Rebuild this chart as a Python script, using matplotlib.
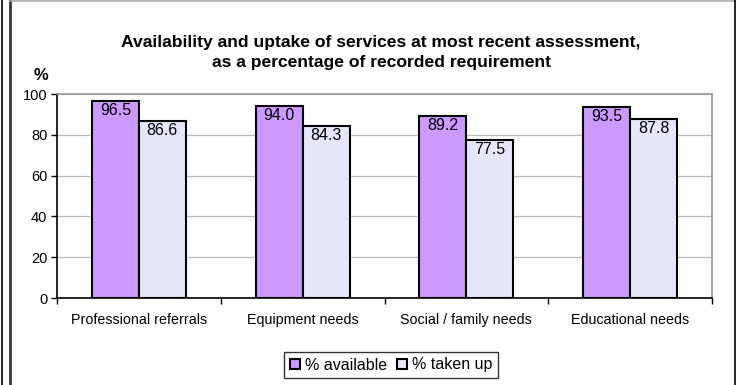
import numpy as np
import matplotlib
matplotlib.use("Agg")
import matplotlib.pyplot as plt
from matplotlib.lines import Line2D
from matplotlib.patches import Patch

plt.rcParams['font.family'] = ['Liberation Sans', 'DejaVu Sans']

# data
categories = ['Professional referrals', 'Equipment needs',
              'Social / family needs', 'Educational needs']
available = [96.5, 94.0, 89.2, 93.5]
taken_up = [86.6, 84.3, 77.5, 87.8]
series_names = ['% available', '% taken up']
y_ticks = [0, 20, 40, 60, 80, 100]

W, H = 739, 385
fig = plt.figure(figsize=(W / 100, H / 100), dpi=100)
ax = fig.add_axes([57 / W, 1 - 298 / H, 655 / W, 204 / H])

x = np.arange(len(categories))
bw = 0.287
c_avail = '#CC99FF'
c_taken = '#E6E6FB'
b1 = ax.bar(x - bw / 2, available, bw, color=c_avail, edgecolor='black',
            linewidth=1.5, zorder=3)
b2 = ax.bar(x + bw / 2, taken_up, bw, color=c_taken, edgecolor='black',
            linewidth=1.5, zorder=3)

for bars, vals in ((b1, available), (b2, taken_up)):
    for rect, v in zip(bars, vals):
        ax.annotate('%.1f' % v, (rect.get_x() + rect.get_width() / 2, v),
                    xytext=(0, -1.5), textcoords='offset points',
                    ha='center', va='top', fontsize=11.5, zorder=4)

ax.set_xlim(-0.5, len(categories) - 0.5)
ax.set_ylim(0, 100)
ax.set_yticks(y_ticks)
ax.set_yticklabels([str(t) for t in y_ticks], fontsize=10.5)
ax.yaxis.grid(True, color='#BBBBBB', linewidth=0.9, zorder=0)
ax.set_axisbelow(True)

ax.set_xticks(x)
ax.set_xticklabels(categories, fontsize=10.3)
ax.tick_params(axis='x', which='major', length=0, pad=11)
ax.set_xticks(np.arange(-0.5, len(categories)), minor=True)
ax.tick_params(axis='x', which='minor', length=4, width=1, direction='out')
ax.tick_params(axis='y', length=4, width=1, direction='out', pad=3)

for s in ('top', 'right'):
    ax.spines[s].set_color('#999999')
    ax.spines[s].set_linewidth(1.2)
ax.spines['left'].set_linewidth(1.2)
ax.spines['bottom'].set_linewidth(1.2)

fig.text(381 / W, 1 - 43 / H, 'Availability and uptake of services at most recent assessment,',
         ha='center', va='center', fontsize=12.6, fontweight='bold')
fig.text(381 / W, 1 - 63 / H, 'as a percentage of recorded requirement',
         ha='center', va='center', fontsize=12.6, fontweight='bold')
fig.text(41 / W, 1 - 75 / H, '%', ha='center', va='center',
         fontsize=12, fontweight='bold')

handles = [Patch(facecolor=c_avail, edgecolor='black', linewidth=1.5),
           Patch(facecolor=c_taken, edgecolor='black', linewidth=1.5)]
leg = fig.legend(handles, series_names, loc='center',
                 bbox_to_anchor=(391 / W, 1 - 365 / H), ncol=2,
                 fontsize=11.5, frameon=True, fancybox=False,
                 edgecolor='black', handlelength=0.65, handleheight=0.65,
                 handletextpad=0.3, columnspacing=0.6, borderpad=0.35,
                 borderaxespad=0)
leg.get_frame().set_linewidth(1.0)

# outer frame lines
fig.add_artist(Line2D([2 / W, 2 / W], [0, 1], color='black', linewidth=1.2))
fig.add_artist(Line2D([9.5 / W, 9.5 / W], [0, 1], color='#333333', linewidth=2))
fig.add_artist(Line2D([10 / W, 735 / W], [1 - 0.8 / H, 1 - 0.8 / H],
                      color='#AAAAAA', linewidth=1.2))
fig.add_artist(Line2D([735 / W, 735 / W], [0, 1], color='black', linewidth=1.2))

fig.savefig('out.png', dpi=100)
